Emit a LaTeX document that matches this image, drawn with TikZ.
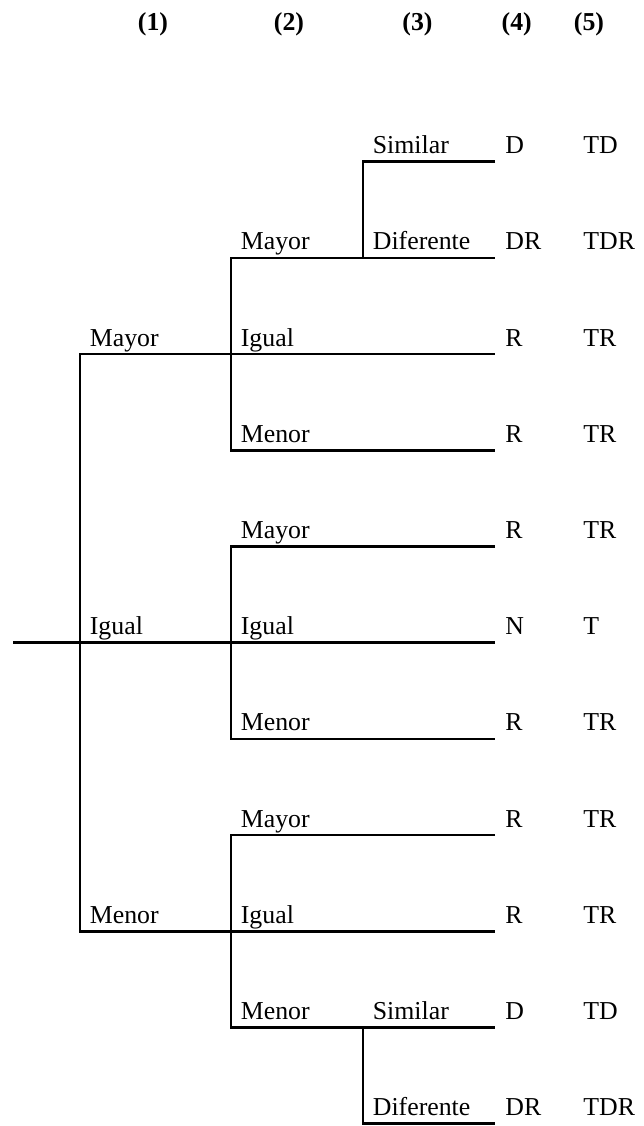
\documentclass[tikz,border=0pt]{standalone}
\usepackage{fontspec}
\setmainfont{Liberation Serif}
\usepackage{tikz}
\usetikzlibrary{positioning}

\tikzset{
  branch/.style={line width=1.2pt},
  lbl/.style={anchor=base west, inner sep=0pt, xshift=4.4pt, yshift=3.7pt},
  res/.style={anchor=base west, inner sep=0pt},
  head/.style={anchor=base, inner sep=0pt, font=\fontsize{12}{14}\selectfont\bfseries}
}

\begin{document}
\begin{tikzpicture}[x=0.465pt, y=-0.465pt, font=\fontsize{12}{14}\selectfont]
\useasboundingbox (0,0) rectangle (643,1126);

% column headings
\node[head] (h1) at (153,31) {(1)};
\node[head] (h2) at (289,31) {(2)};
\node[head] (h3) at (417.5,31) {(3)};
\node[head] (h4) at (516.7,31) {(4)};
\node[head] (h5) at (589,31) {(5)};

% fork points
\coordinate (s) at (13,642.7);
\coordinate (a) at (80,642.7);
\coordinate (b2) at (231,354.1);
\coordinate (b5) at (231,642.7);
\coordinate (b8) at (231,931.3);
\coordinate (c1) at (363,257.9);
\coordinate (c9) at (363,1027.5);

% leaf ends
\coordinate (e0) at (495,161.7);
\coordinate (e1) at (495,257.9);
\coordinate (e2) at (495,354.1);
\coordinate (e3) at (495,450.3);
\coordinate (e4) at (495,546.5);
\coordinate (e5) at (495,642.7);
\coordinate (e6) at (495,738.9);
\coordinate (e7) at (495,835.1);
\coordinate (e8) at (495,931.3);
\coordinate (e9) at (495,1027.5);
\coordinate (e10) at (495,1123.7);

% the first split
\draw[branch] (s) -- (a) -- (b5) -- (e5);
\draw[branch] (b2) -| (a) |- (b8);

% the second split
\draw[branch] (c1) -| (b2) |- (e3);
\draw[branch] (b2) -- (e2);
\draw[branch] (e4) -| (b5) |- (e6);
\draw[branch] (e7) -| (b8) |- (c9);
\draw[branch] (b8) -- (e8);

% the third split
\draw[branch] (e0) -| (c1) -- (e1);
\draw[branch] (c9) -- (e9);
\draw[branch] (c9) |- (e10);

% labels, level 1
\node[lbl] (m1) at (80,354.1) {Mayor};
\node[lbl] (i1) at (80,642.7) {Igual};
\node[lbl] (n1) at (80,931.3) {Menor};

% labels, level 2
\node[lbl] (m2a) at (231,257.9) {Mayor};
\node[lbl] (i2a) at (231,354.1) {Igual};
\node[lbl] (n2a) at (231,450.3) {Menor};
\node[lbl] (m2b) at (231,546.5) {Mayor};
\node[lbl] (i2b) at (231,642.7) {Igual};
\node[lbl] (n2b) at (231,738.9) {Menor};
\node[lbl] (m2c) at (231,835.1) {Mayor};
\node[lbl] (i2c) at (231,931.3) {Igual};
\node[lbl] (n2c) at (231,1027.5) {Menor};

% labels, level 3
\node[lbl] (s3a) at (363,161.7) {Similar};
\node[lbl] (d3a) at (363,257.9) {Diferente};
\node[lbl] (s3b) at (363,1027.5) {Similar};
\node[lbl] (d3b) at (363,1123.7) {Diferente};

% columns (4) and (5)
\node[res] (r0) at (505,153.7) {D};    \node[res] (t0) at (583,153.7) {TD};
\node[res] (r1) at (505,249.9) {DR};   \node[res] (t1) at (583,249.9) {TDR};
\node[res] (r2) at (505,346.1) {R};    \node[res] (t2) at (583,346.1) {TR};
\node[res] (r3) at (505,442.3) {R};    \node[res] (t3) at (583,442.3) {TR};
\node[res] (r4) at (505,538.5) {R};    \node[res] (t4) at (583,538.5) {TR};
\node[res] (r5) at (505,634.7) {N};    \node[res] (t5) at (583,634.7) {T};
\node[res] (r6) at (505,730.9) {R};    \node[res] (t6) at (583,730.9) {TR};
\node[res] (r7) at (505,827.1) {R};    \node[res] (t7) at (583,827.1) {TR};
\node[res] (r8) at (505,923.3) {R};    \node[res] (t8) at (583,923.3) {TR};
\node[res] (r9) at (505,1019.5) {D};   \node[res] (t9) at (583,1019.5) {TD};
\node[res] (r10) at (505,1115.7) {DR}; \node[res] (t10) at (583,1115.7) {TDR};
\end{tikzpicture}
\end{document}
